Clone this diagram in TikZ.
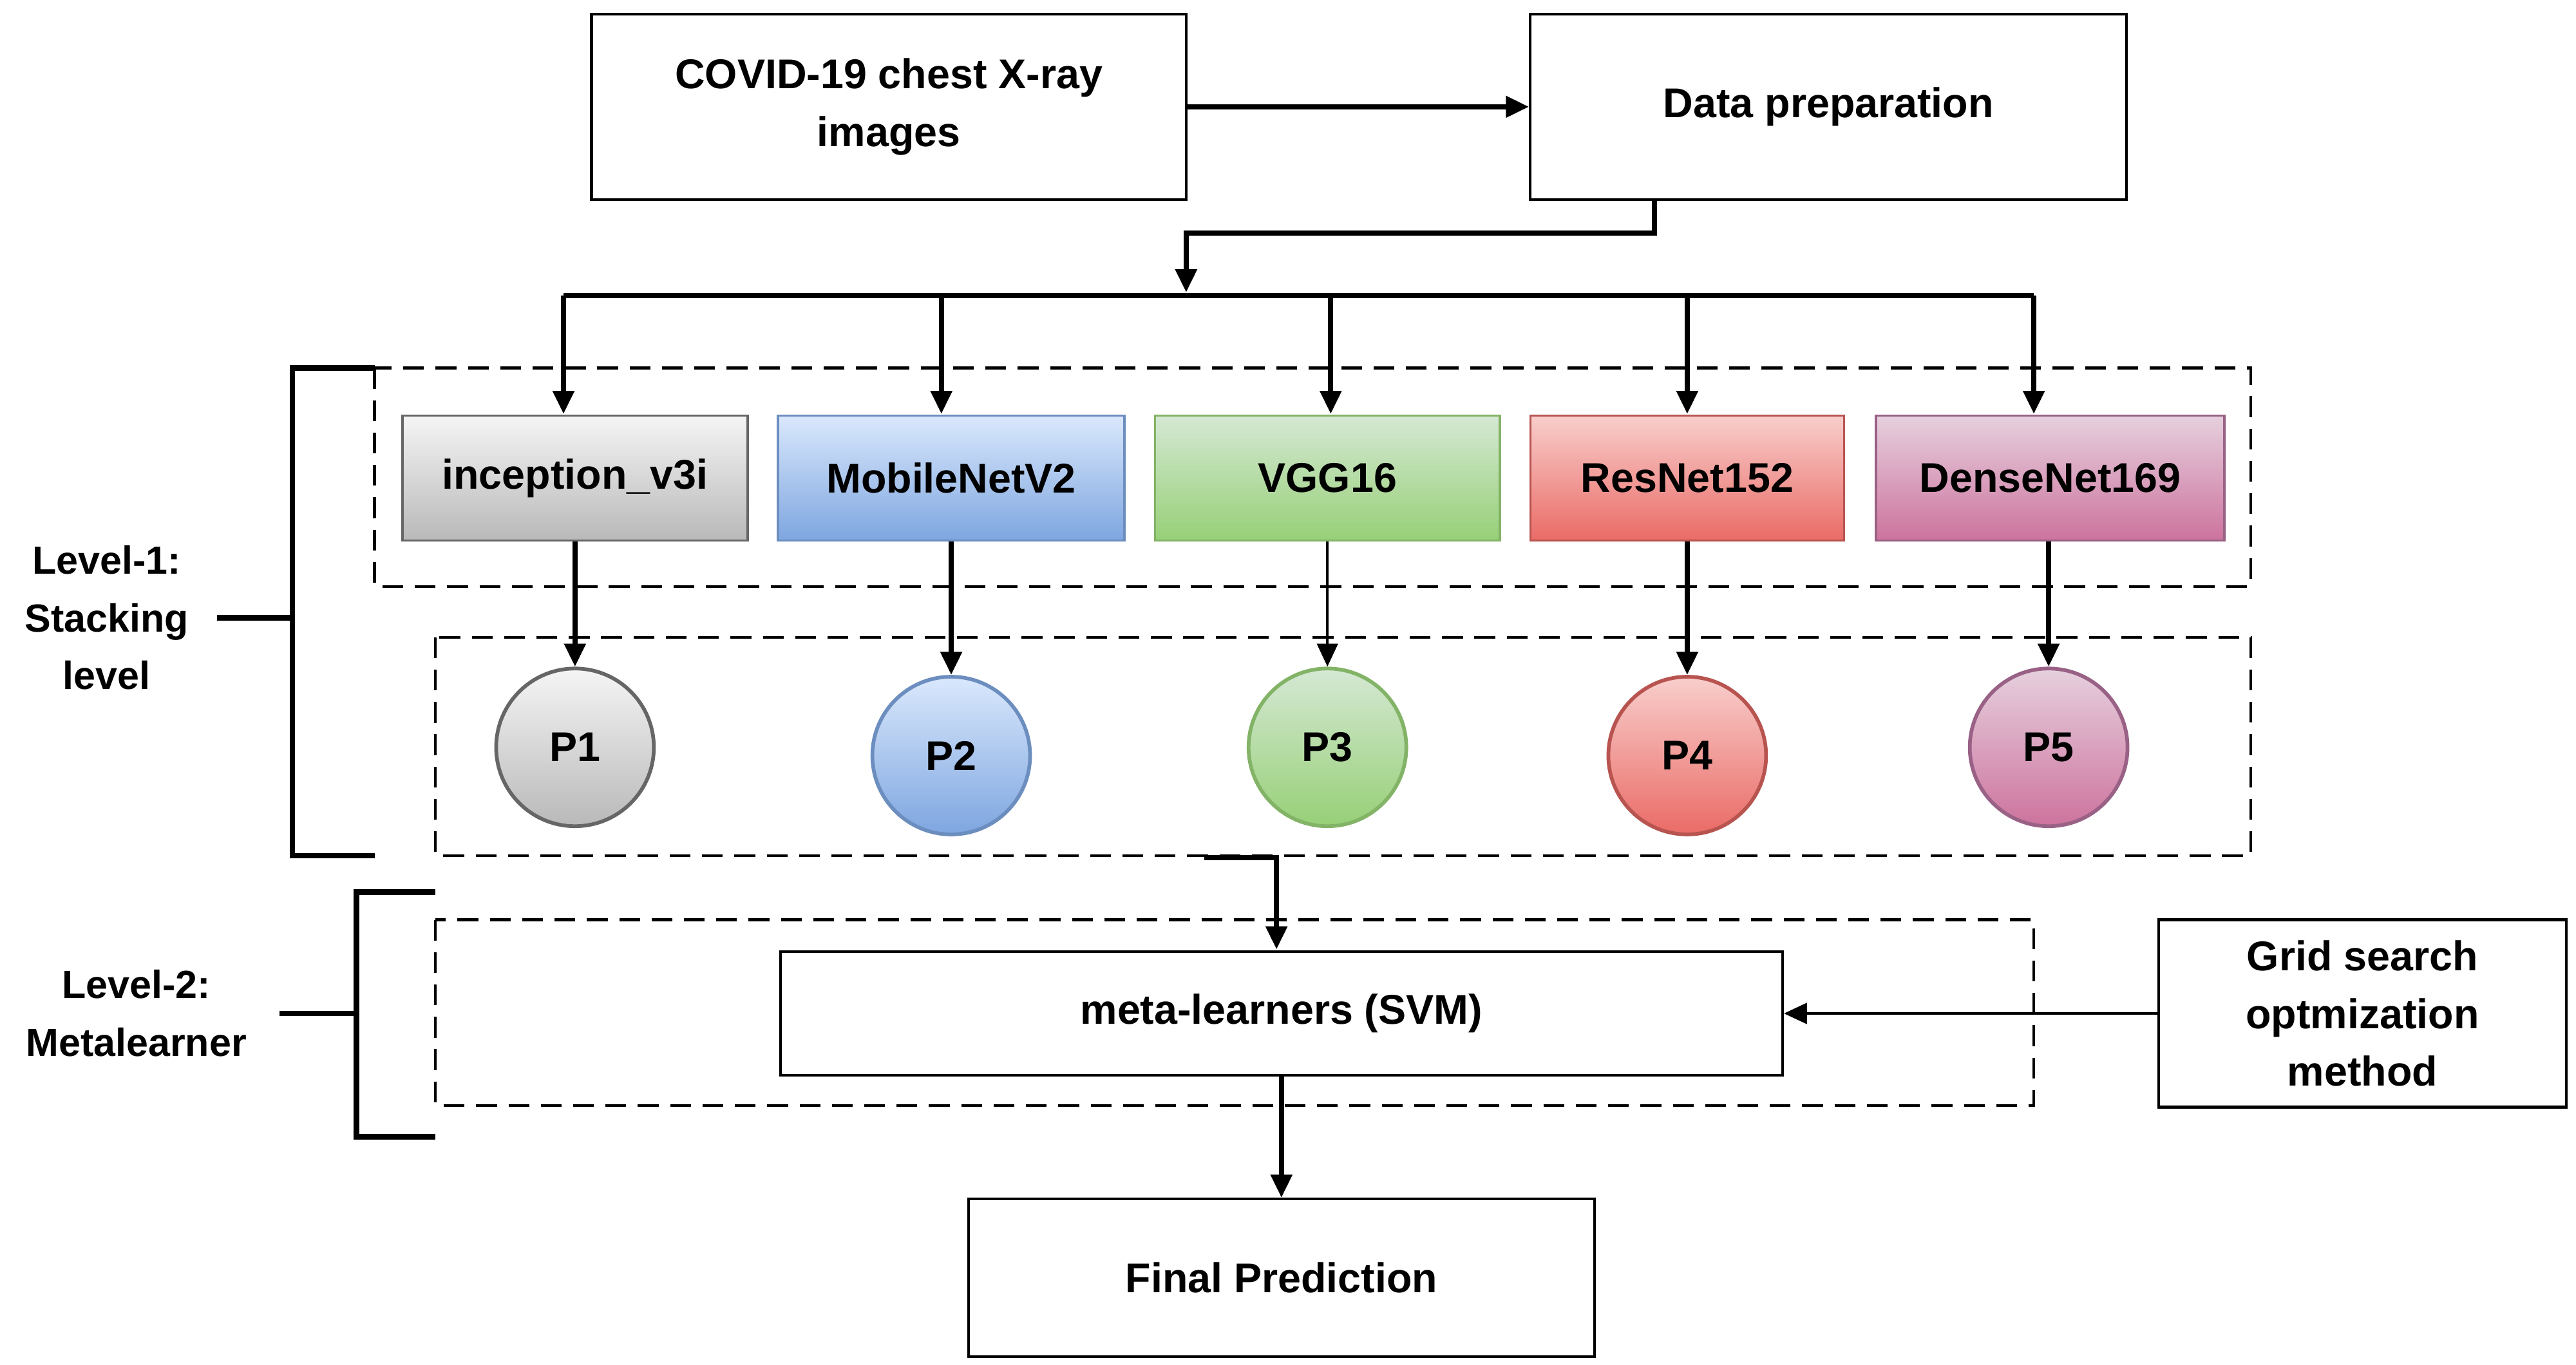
\documentclass[tikz,border=0pt]{standalone}
\usepackage{fontspec}
\setmainfont{Liberation Sans}
\usetikzlibrary{arrows.meta}
\begin{document}
\begin{tikzpicture}[x=0.025cm,y=-0.025cm,
  txt/.style={font=\bfseries\fontsize{18}{25}\selectfont,align=center},
  box/.style={draw=black,line width=1.2pt,txt,inner sep=0},
  mdl/.style={line width=1pt,txt,inner sep=0},
  circ/.style={circle,line width=1.6pt,minimum size=96*0.025cm,txt,inner sep=0},
  arr/.style={line width=2.2pt,-{Triangle[length=10pt,width=9pt]}},
  thin arr/.style={line width=1.2pt,-{Triangle[length=10pt,width=9pt]}},
  dashbox/.style={line width=1.2pt,dash pattern=on 9pt off 5pt},
  brk/.style={line width=2.4pt}]
\useasboundingbox (0,0) rectangle (1568,831);
\fill[white] (0,0) rectangle (1568,831);
% top boxes
\node[box,minimum width=362*0.025cm,minimum height=113*0.025cm] (covid) at (541,65) {COVID-19 chest X-ray\\images};
\node[box,minimum width=363*0.025cm,minimum height=113*0.025cm] (prep) at (1113,65) {Data preparation};
\draw[arr] (covid.east) -- (prep.west);
\draw[arr] (1007,121) -- (1007,142) -- (722,142) -- (722,178);
\draw[line width=2.2pt] (343,180) -- (1238,180);
% dashed regions
\draw[dashbox] (228,224) rectangle (1370,357);
\draw[dashbox] (265,388) rectangle (1370,521);
\draw[dashbox] (265,560) rectangle (1238,673);
% models
\foreach \n/\c/\w/\tc/\bc/\dc/\t/\ax in {
  m1/350/210/gray!8/gray!55/black!60/inception\_v3i/343,
  m2/579/211/{rgb,255:red,218;green,232;blue,252}/{rgb,255:red,126;green,166;blue,224}/{rgb,255:red,108;green,142;blue,191}/MobileNetV2/573,
  m3/808/210/{rgb,255:red,213;green,232;blue,212}/{rgb,255:red,151;green,208;blue,119}/{rgb,255:red,130;green,179;blue,102}/VGG16/810,
  m4/1027/191/{rgb,255:red,248;green,206;blue,204}/{rgb,255:red,234;green,107;blue,102}/{rgb,255:red,184;green,84;blue,80}/ResNet152/1027,
  m5/1248/212/{rgb,255:red,230;green,208;blue,222}/{rgb,255:red,205;green,115;blue,157}/{rgb,255:red,153;green,97;blue,133}/DenseNet169/1238}{
  \node[mdl,draw=\dc,top color=\tc,bottom color=\bc,minimum width=\w*0.025cm,minimum height=76*0.025cm] (\n) at (\c,291) {\t};
  \draw[arr] (\ax,180) -- (\ax,252);
}
\foreach \n/\c/\y/\tc/\bc/\dc/\t in {
  p1/350/455/gray!8/gray!55/black!60/P1,
  p2/579/460/{rgb,255:red,218;green,232;blue,252}/{rgb,255:red,126;green,166;blue,224}/{rgb,255:red,108;green,142;blue,191}/P2,
  p3/808/455/{rgb,255:red,213;green,232;blue,212}/{rgb,255:red,151;green,208;blue,119}/{rgb,255:red,130;green,179;blue,102}/P3,
  p4/1027/460/{rgb,255:red,248;green,206;blue,204}/{rgb,255:red,234;green,107;blue,102}/{rgb,255:red,184;green,84;blue,80}/P4,
  p5/1247/455/{rgb,255:red,230;green,208;blue,222}/{rgb,255:red,205;green,115;blue,157}/{rgb,255:red,153;green,97;blue,133}/P5}{
  \node[circ,draw=\dc,top color=\tc,bottom color=\bc] (\n) at (\c,\y) {\t};
}
\draw[arr] (m1.south -| p1) -- (p1.north);
\draw[arr] (m2.south -| p2) -- (p2.north);
\draw[thin arr] (m3.south -| p3) -- (p3.north);
\draw[arr] (m4.south -| p4) -- (p4.north);
\draw[arr] (m5.south -| p5) -- (p5.north);
% meta
\node[box,minimum width=610*0.025cm,minimum height=75*0.025cm] (meta) at (780,617) {meta-learners (SVM)};
\draw[arr] (733,522) -- (777,522) -- (777,578);
\node[box,minimum width=248*0.025cm,minimum height=114*0.025cm] (grid) at (1438,617) {Grid search\\optmization\\method};
\draw[thin arr] (grid.west) -- (meta.east);
\node[box,minimum width=381*0.025cm,minimum height=96*0.025cm] (final) at (780,778) {Final Prediction};
\draw[arr] (meta.south) -- (final.north);
% brackets
\draw[brk] (228,224) -- (178,224) -- (178,521) -- (228,521);
\draw[brk] (132,376) -- (178,376);
\node[txt,font=\bfseries\fontsize{17}{25}\selectfont] (l1) at (65,376) {Level-1:\\Stacking\\level};
\draw[brk] (265,543) -- (217,543) -- (217,692) -- (265,692);
\draw[brk] (170,617) -- (217,617);
\node[txt,font=\bfseries\fontsize{17}{25}\selectfont] (l2) at (83,617) {Level-2:\\Metalearner};
\end{tikzpicture}
\end{document}
